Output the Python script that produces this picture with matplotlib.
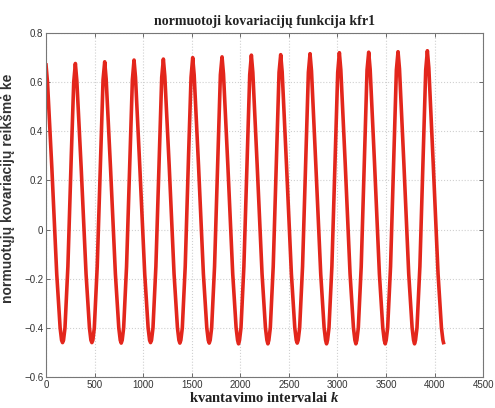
"""
Normuotoji kovariacijų funkcija kfr1 – values read off the reference picture
"""

import matplotlib
matplotlib.use("Agg")
import matplotlib.pyplot as plt

# ── Data (per cycle: k positions and ke values) ────────────────────────────────
K_CYCLES = [
    [0, 15, 60, 110, 145, 160, 170, 180, 195, 225, 260, 285],
    [302, 317, 362, 412, 447, 462, 472, 482, 497, 527, 562, 587],
    [604, 619, 664, 714, 749, 764, 774, 784, 799, 829, 864, 889],
    [906, 921, 966, 1016, 1051, 1066, 1076, 1086, 1101, 1131, 1166, 1191],
    [1208, 1223, 1268, 1318, 1353, 1368, 1378, 1388, 1403, 1433, 1468, 1493],
    [1510, 1525, 1570, 1620, 1655, 1670, 1680, 1690, 1705, 1735, 1770, 1795],
    [1812, 1827, 1872, 1922, 1957, 1972, 1982, 1992, 2007, 2037, 2072, 2097],
    [2114, 2129, 2174, 2224, 2259, 2274, 2284, 2294, 2309, 2339, 2374, 2399],
    [2416, 2431, 2476, 2526, 2561, 2576, 2586, 2596, 2611, 2641, 2676, 2701],
    [2718, 2733, 2778, 2828, 2863, 2878, 2888, 2898, 2913, 2943, 2978, 3003],
    [3020, 3035, 3080, 3130, 3165, 3180, 3190, 3200, 3215, 3245, 3280, 3305],
    [3322, 3337, 3382, 3432, 3467, 3482, 3492, 3502, 3517, 3547, 3582, 3607],
    [3624, 3639, 3684, 3734, 3769, 3784, 3794, 3804, 3819, 3849, 3884, 3909],
    [3926, 3941, 3986, 4036, 4071, 4086, 4092],
]
KE_CYCLES = [
    [0.670, 0.600, 0.25, -0.18, -0.40, -0.45, -0.460, -0.45, -0.40, -0.15, 0.30, 0.60],
    [0.676, 0.606, 0.25, -0.18, -0.40, -0.45, -0.460, -0.45, -0.40, -0.15, 0.30, 0.61],
    [0.683, 0.613, 0.25, -0.18, -0.40, -0.45, -0.462, -0.45, -0.40, -0.15, 0.30, 0.61],
    [0.690, 0.620, 0.25, -0.18, -0.40, -0.45, -0.460, -0.45, -0.40, -0.15, 0.30, 0.62],
    [0.694, 0.624, 0.26, -0.18, -0.40, -0.45, -0.462, -0.45, -0.40, -0.15, 0.31, 0.62],
    [0.700, 0.630, 0.26, -0.18, -0.40, -0.45, -0.462, -0.45, -0.40, -0.15, 0.31, 0.63],
    [0.703, 0.633, 0.26, -0.18, -0.40, -0.45, -0.465, -0.45, -0.40, -0.15, 0.31, 0.63],
    [0.710, 0.640, 0.26, -0.18, -0.40, -0.45, -0.465, -0.45, -0.40, -0.15, 0.31, 0.64],
    [0.712, 0.642, 0.26, -0.18, -0.40, -0.45, -0.462, -0.45, -0.40, -0.15, 0.31, 0.64],
    [0.716, 0.646, 0.26, -0.18, -0.40, -0.45, -0.465, -0.45, -0.40, -0.15, 0.31, 0.64],
    [0.720, 0.650, 0.27, -0.18, -0.40, -0.45, -0.465, -0.45, -0.40, -0.15, 0.32, 0.65],
    [0.722, 0.652, 0.27, -0.18, -0.40, -0.45, -0.465, -0.45, -0.40, -0.15, 0.32, 0.65],
    [0.724, 0.654, 0.27, -0.18, -0.40, -0.45, -0.465, -0.45, -0.40, -0.15, 0.32, 0.65],
    [0.728, 0.658, 0.27, -0.18, -0.40, -0.45, -0.460],
]

X_TICKS = [0, 500, 1000, 1500, 2000, 2500, 3000, 3500, 4000, 4500]
Y_TICKS = [-0.6, -0.4, -0.2, 0, 0.2, 0.4, 0.6, 0.8]
Y_TICK_LABELS = ["\u22120.6", "\u22120.4", "\u22120.2", "0", "0.2", "0.4", "0.6", "0.8"]

TITLE = "normuotoji kovariacijų funkcija kfr1"
XLABEL = "kvantavimo intervalai $k$"
YLABEL = "normuotųjų kovariacijų reikšmė ke"

# ── Style ───────────────────────────────────────────────────────────────────────
plt.rcParams["mathtext.fontset"] = "custom"
plt.rcParams["mathtext.it"] = "Liberation Serif:italic:bold"
plt.rcParams["mathtext.rm"] = "Liberation Serif:bold"

k = [v for cyc in K_CYCLES for v in cyc]
ke = [v for cyc in KE_CYCLES for v in cyc]

fig = plt.figure(figsize=(4.95, 4.08), dpi=100)
ax = fig.add_axes([0.093, 0.076, 0.883, 0.843])

ax.plot(k, ke, color="#e3261c", linewidth=2.6, solid_joinstyle="round")

ax.set_xlim(0, 4500)
ax.set_ylim(-0.6, 0.8)
ax.set_xticks(X_TICKS)
ax.set_yticks(Y_TICKS)
ax.set_yticklabels(Y_TICK_LABELS)
ax.tick_params(direction="in", length=3, width=0.6, color="#555555",
               labelsize=7, labelcolor="#333333", pad=2,
               top=True, right=True)
for lbl in ax.get_xticklabels() + ax.get_yticklabels():
    lbl.set_family("Liberation Sans")

ax.grid(True, color="#d0d0d0", linestyle=":", linewidth=0.8)
for s in ax.spines.values():
    s.set_color("#777777")
    s.set_linewidth(0.8)

ax.set_title(TITLE, family="Liberation Serif", fontweight="bold",
             fontsize=10, color="#222222", pad=6)
ax.set_xlabel(XLABEL, family="Liberation Serif", fontweight="bold",
              fontsize=10.5, color="#222222", labelpad=1)
ax.set_ylabel(YLABEL, family="Liberation Sans", fontweight="bold",
              fontsize=10, color="#333333")
ax.yaxis.set_label_coords(-0.072, 0.55)

fig.savefig("out.png", dpi=100, facecolor="white")
